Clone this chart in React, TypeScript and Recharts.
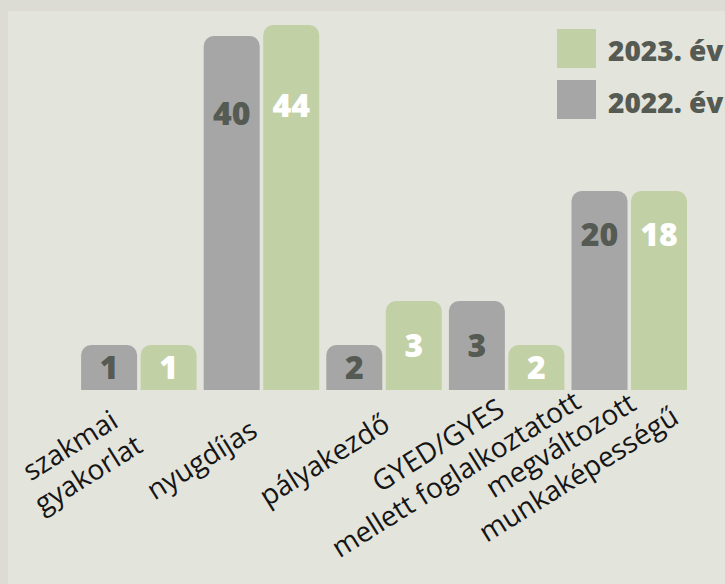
import React from 'react';
import { BarChart, Bar, XAxis, YAxis, LabelList, Legend } from 'recharts';

// Categories (x axis), one label line per "\n"
const categories = [
  'szakmai\ngyakorlat',
  'nyugdíjas',
  'pályakezdő',
  'GYED/GYES\nmellett foglalkoztatott',
  'megváltozott\nmunkaképességű',
];
// Numbers printed on the bars
const counts2022 = [1, 40, 2, 3, 20];
const counts2023 = [1, 44, 3, 2, 18];
// Bar heights as drawn in the picture (the picture's bars are not proportional to the printed numbers)
const barLevel2022 = [45, 354, 45, 89, 199];
const barLevel2023 = [45, 365, 89, 45, 199];
const seriesNames = ['2022. év', '2023. év'];

const GRAY = '#a6a6a6';
const GREEN = '#c2d0a6';
const DARK = '#555a52';

const data = categories.map((name, i) => ({
  name,
  h2022: barLevel2022[i],
  h2023: barLevel2023[i],
  v2022: counts2022[i],
  v2023: counts2023[i],
}));

const makeBarLabel = (color: string) => (props: any) => {
  const { x, y, width, height, value } = props;
  const h = Number(height);
  const drop = h <= 100 ? h / 2 : h * 0.22;
  const cy = Number(y) + drop;
  return (
    <text
      x={Number(x) + Number(width) / 2}
      y={cy + 11.5}
      textAnchor="middle"
      fontFamily="'Open Sans', sans-serif"
      fontWeight={800}
      fontSize={32}
      fill={color}
    >
      {value}
    </text>
  );
};

const CategoryTick = (props: any) => {
  const { x, y, payload } = props;
  const lines = String(payload.value).split('\n');
  const cx = Number(x) - 55;
  const cy = Number(y) + 78;
  return (
    <g transform={`translate(${cx},${cy}) rotate(-32)`}>
      {lines.map((l, i) => (
        <text
          key={i}
          x={0}
          y={(i - (lines.length - 1) / 2) * 34}
          textAnchor="middle"
          fontFamily="'Open Sans', sans-serif"
          fontSize={28}
          fill="#151515"
        >
          {l}
        </text>
      ))}
    </g>
  );
};

const LegendContent = () => (
  <svg width={168} height={92} style={{ display: 'block' }}>
    <rect x={0} y={0} width={39} height={39} fill={GREEN} />
    <text x={51} y={31.7} fontFamily="'Open Sans', sans-serif" fontWeight={800} fontSize={28} fill={DARK}>
      {seriesNames[1]}
    </text>
    <rect x={0} y={51} width={39} height={39} fill={GRAY} />
    <text x={51} y={83.7} fontFamily="'Open Sans', sans-serif" fontWeight={800} fontSize={28} fill={DARK}>
      {seriesNames[0]}
    </text>
  </svg>
);

export default function App() {
  return (
    <div style={{ position: 'fixed', left: 0, top: 0, width: 725, height: 584, background: '#dcdcd4', overflow: 'hidden' }}>
      <div style={{ position: 'absolute', left: 8, top: 11, width: 717, height: 573, background: '#e3e4dc' }}>
        <BarChart
          width={717}
          height={573}
          data={data}
          margin={{ top: 14, right: 34, bottom: 0, left: 70 }}
          barCategoryGap={3.1}
          barGap={3.5}
        >
          <XAxis
            dataKey="name"
            axisLine={false}
            tickLine={false}
            tickSize={0}
            tickMargin={0}
            height={194}
            interval={0}
            tick={<CategoryTick />}
          />
          <YAxis hide domain={[0, 365]} />
          <Legend
            layout="horizontal"
            verticalAlign="middle"
            align="center"
            content={<LegendContent />}
            wrapperStyle={{ position: 'absolute', left: 549, top: 18, width: 168, height: 92 }}
          />
          <Bar dataKey="h2022" name={seriesNames[0]} fill={GRAY} radius={[10, 10, 0, 0]} isAnimationActive={false}>
            <LabelList dataKey="v2022" content={makeBarLabel(DARK)} />
          </Bar>
          <Bar dataKey="h2023" name={seriesNames[1]} fill={GREEN} radius={[10, 10, 0, 0]} isAnimationActive={false}>
            <LabelList dataKey="v2023" content={makeBarLabel('#ffffff')} />
          </Bar>
        </BarChart>
      </div>
    </div>
  );
}
